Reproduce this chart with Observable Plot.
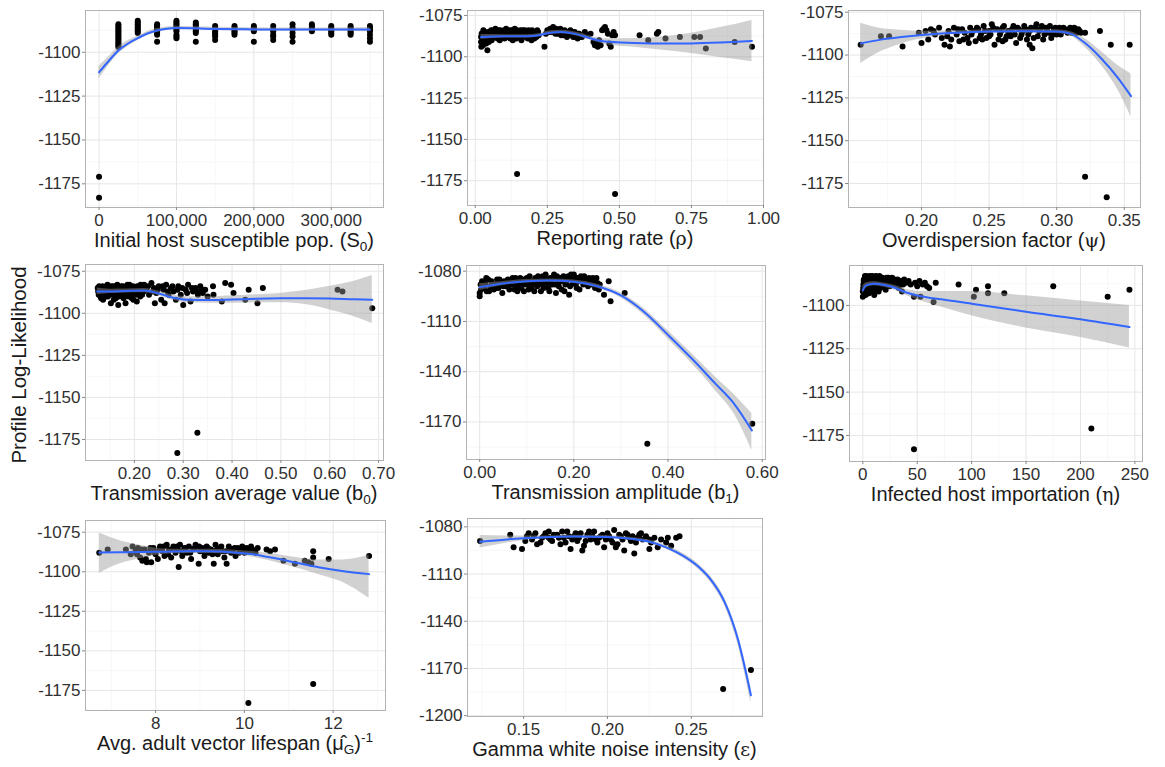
<!DOCTYPE html>
<html><head><meta charset="utf-8">
<script src="https://cdn.jsdelivr.net/npm/d3@7"></script>
<script src="https://cdn.jsdelivr.net/npm/@observablehq/plot@0.6"></script>
<style>
body{margin:0;background:#fff;font-family:"Liberation Sans",Arial,sans-serif;}
#chart{position:relative;width:1165px;height:767px;overflow:hidden;background:#fff;}
.xt{position:absolute;font-size:20px;color:#1a1a1a;text-align:center;white-space:nowrap;line-height:22px;transform:translateX(-50%);}
.xt sub{font-size:0.68em;vertical-align:-0.3em;line-height:0;}
.xt sup{font-size:0.68em;vertical-align:0.6em;line-height:0;}
.gk{font-family:"DejaVu Serif",serif;font-size:0.95em;}
.yl{position:absolute;font-size:20.5px;color:#1a1a1a;white-space:nowrap;transform:translate(-50%,-50%) rotate(-90deg);}
</style></head><body><div id="chart"></div><script>
// ---------- data ----------
const s0Pts = [[0,-1171],[0,-1183],
[25000,-1084],[25000,-1085],[25000,-1086],[25000,-1087],[25000,-1088],[25000,-1089],[25000,-1090],[25000,-1091],[25000,-1092],[25000,-1093],[25000,-1094],[25000,-1095],[25000,-1096],[25000,-1097],
[50000,-1082],[50000,-1083],[50000,-1084],[50000,-1085],[50000,-1086],[50000,-1087],[50000,-1088],[50000,-1089],
[75000,-1084],[75000,-1085],[75000,-1086],[75000,-1087],[75000,-1088],[75000,-1089],[75000,-1090],[75000,-1094],
[100000,-1082],[100000,-1083],[100000,-1084],[100000,-1085],[100000,-1086],[100000,-1087],[100000,-1088],[100000,-1090],[100000,-1091],[100000,-1092],
[125000,-1083],[125000,-1084],[125000,-1085],[125000,-1086],[125000,-1087],[125000,-1088],[125000,-1089],[125000,-1094],
[150000,-1085],[150000,-1086],[150000,-1088],[150000,-1089],[150000,-1090],[150000,-1091],[150000,-1093],
[175000,-1085],[175000,-1086],[175000,-1087],[175000,-1088],[175000,-1089],[175000,-1090],
[200000,-1085],[200000,-1086],[200000,-1087],[200000,-1088],[200000,-1094],
[225000,-1085],[225000,-1087],[225000,-1088],[225000,-1090],[225000,-1091],[225000,-1093],
[250000,-1084],[250000,-1086],[250000,-1087],[250000,-1089],[250000,-1091],[250000,-1094],
[275000,-1084],[275000,-1085],[275000,-1086],[275000,-1087],[275000,-1088],
[300000,-1085],[300000,-1086],[300000,-1087],[300000,-1088],[300000,-1089],[300000,-1090],
[325000,-1085],[325000,-1086],[325000,-1087],[325000,-1088],[325000,-1089],[325000,-1090],
[350000,-1085],[350000,-1086],[350000,-1087],[350000,-1088],[350000,-1090],[350000,-1092],[350000,-1094]];
const s0Fit = [[0,-1111.4,-1115,-1108],[12500,-1105,-1107.5,-1102.5],[25000,-1099,-1101,-1097],[37500,-1095,-1096.7,-1093.3],[50000,-1092,-1093.3,-1090.7],[62500,-1089.3,-1090.5,-1088.1],[75000,-1087.6,-1088.7,-1086.5],[87500,-1086.6,-1087.6,-1085.6],[100000,-1086.2,-1087.2,-1085.2],[150000,-1086.7,-1087.6,-1085.8],[200000,-1087,-1087.9,-1086.1],[250000,-1087.1,-1088,-1086.2],[300000,-1087.1,-1088,-1086.2],[350000,-1087.1,-1088.3,-1085.9]];

const rhoPts = [[0.02,-1088],[0.02,-1091],[0.021,-1094],[0.023,-1086],[0.025,-1089],[0.027,-1093],[0.03,-1087],[0.03,-1090],[0.032,-1085],[0.035,-1088],[0.038,-1092],[0.04,-1086],[0.042,-1096],[0.045,-1089],[0.048,-1085],[0.05,-1087],[0.055,-1084],[0.058,-1088],[0.06,-1086],[0.065,-1085],[0.07,-1083],[0.072,-1087],[0.075,-1085],[0.08,-1084],[0.083,-1086],[0.085,-1090],[0.09,-1085],[0.095,-1087],[0.1,-1084],[0.105,-1086],[0.11,-1085],[0.115,-1088],[0.12,-1084],[0.125,-1086],[0.13,-1090],[0.135,-1085],[0.14,-1087],[0.145,-1084],[0.15,-1086],[0.155,-1085],[0.16,-1090],[0.165,-1084],[0.17,-1086],[0.175,-1088],[0.18,-1085],[0.185,-1084],[0.19,-1087],[0.195,-1090],[0.2,-1085],[0.205,-1089],[0.21,-1086],[0.215,-1084],[0.22,-1087],
[0.022,-1086],[0.028,-1084],[0.033,-1091],[0.036,-1085],[0.043,-1087],[0.047,-1091],[0.052,-1085],[0.057,-1090],[0.062,-1084],[0.067,-1088],[0.071,-1085],[0.077,-1089],[0.081,-1086],[0.087,-1084],[0.092,-1088],[0.097,-1085],[0.102,-1089],[0.107,-1083],[0.112,-1087],[0.117,-1085],[0.122,-1089],[0.127,-1084],[0.132,-1087],[0.137,-1083],[0.142,-1089],[0.147,-1086],[0.152,-1088],[0.157,-1084],[0.162,-1087],[0.167,-1085],[0.172,-1084],[0.177,-1086],[0.182,-1089],[0.187,-1086],[0.192,-1085],[0.197,-1084],[0.202,-1087],[0.207,-1085],[0.212,-1088],[0.218,-1085],
[0.24,-1094],[0.245,-1086],[0.25,-1084],[0.26,-1083],[0.265,-1085],[0.27,-1082],[0.275,-1084],[0.28,-1083],[0.285,-1086],[0.29,-1084],[0.295,-1083],[0.3,-1085],[0.305,-1087],[0.31,-1084],[0.315,-1086],[0.32,-1085],[0.325,-1087],[0.33,-1084],[0.335,-1086],[0.34,-1088],[0.345,-1085],[0.35,-1087],[0.355,-1089],[0.36,-1086],[0.37,-1088],[0.38,-1085],[0.39,-1087],[0.4,-1086],
[0.255,-1085],[0.268,-1084],[0.278,-1086],[0.288,-1085],[0.298,-1087],[0.308,-1085],[0.318,-1088],[0.328,-1086],[0.338,-1085],[0.348,-1088],[0.358,-1086],[0.365,-1088],
[0.41,-1091],[0.415,-1093],[0.42,-1092],[0.425,-1094],[0.43,-1090],[0.435,-1093],[0.44,-1084],[0.445,-1083],[0.45,-1082],[0.455,-1084],[0.46,-1086],[0.465,-1092],[0.47,-1094],[0.475,-1087],[0.48,-1085],[0.485,-1087],
[0.57,-1087],[0.6,-1090],[0.63,-1086],[0.635,-1085],[0.66,-1089],[0.71,-1088],[0.76,-1088],[0.78,-1088],[0.8,-1095],[0.9,-1091],[0.96,-1094],
[0.145,-1171],[0.485,-1183]];
const rhoFit = [[0.02,-1088,-1089.5,-1086.5],[0.1,-1087.6,-1088.6,-1086.6],[0.18,-1087.6,-1088.6,-1086.6],[0.22,-1087,-1088,-1086],[0.26,-1085.4,-1086.5,-1084.3],[0.3,-1085,-1086.1,-1083.9],[0.35,-1086.3,-1087.5,-1085.1],[0.4,-1088.8,-1090.2,-1087.4],[0.45,-1090.8,-1092.5,-1089.1],[0.55,-1091.6,-1094.2,-1089],[0.65,-1092,-1096,-1088],[0.75,-1091.9,-1098,-1085.8],[0.85,-1091.4,-1100.5,-1082.3],[0.96,-1090.5,-1103,-1078]];

const psiPts = [[0.155,-1094],[0.17,-1089],[0.176,-1089],[0.186,-1095],[0.198,-1087],[0.2,-1093],[0.203,-1086],[0.205,-1091],[0.207,-1085],[0.21,-1088],[0.213,-1084],[0.215,-1090],[0.217,-1094],[0.22,-1086],[0.222,-1091],[0.224,-1084],[0.226,-1088],[0.228,-1092],[0.23,-1085],[0.232,-1087],[0.234,-1090],[0.236,-1084],[0.238,-1086],[0.24,-1092],[0.242,-1085],[0.244,-1088],[0.246,-1083],[0.248,-1090],[0.25,-1086],[0.252,-1082],[0.254,-1094],[0.256,-1085],[0.258,-1088],[0.26,-1084],[0.262,-1091],[0.264,-1086],[0.266,-1089],[0.268,-1083],[0.27,-1093],[0.272,-1085],[0.274,-1088],[0.276,-1083],[0.278,-1091],[0.28,-1086],[0.282,-1096],[0.284,-1084],[0.286,-1089],[0.288,-1085],[0.29,-1091],[0.292,-1084],[0.294,-1087],[0.296,-1090],[0.298,-1085],[0.3,-1088],[0.302,-1084],[0.304,-1086],[0.306,-1085],[0.308,-1087],[0.31,-1084],[0.312,-1086],[0.314,-1085],[0.28,-1094],[0.26,-1092],[0.245,-1091],[0.235,-1093],[0.25,-1089],[0.265,-1087],[0.285,-1082],[0.295,-1083],[0.221,-1095],
[0.209,-1086],[0.219,-1089],[0.227,-1085],[0.231,-1091],[0.237,-1088],[0.241,-1084],[0.243,-1090],[0.247,-1086],[0.251,-1088],[0.253,-1084],[0.257,-1091],[0.259,-1086],[0.261,-1083],[0.263,-1089],[0.267,-1085],[0.269,-1088],[0.271,-1084],[0.273,-1090],[0.275,-1086],[0.277,-1085],[0.279,-1088],[0.281,-1084],[0.283,-1090],[0.287,-1086],[0.289,-1083],[0.291,-1088],[0.293,-1086],[0.297,-1088],[0.299,-1084],[0.301,-1086],[0.303,-1088],[0.305,-1084],[0.307,-1086],[0.309,-1085],[0.311,-1087],[0.313,-1084],[0.315,-1087],[0.316,-1085],[0.317,-1086],[0.318,-1087],
[0.321,-1087],[0.332,-1086],[0.34,-1094],[0.354,-1094],
[0.321,-1171],[0.337,-1183]];
const psiFit = [[0.155,-1093.2,-1105,-1081.5],[0.17,-1091,-1098,-1084.5],[0.185,-1089.5,-1093.5,-1085.5],[0.2,-1088.3,-1090.5,-1086.1],[0.225,-1087,-1088.2,-1085.8],[0.25,-1086.3,-1087.3,-1085.3],[0.275,-1086.1,-1087.1,-1085.1],[0.3,-1086.3,-1087.4,-1085.2],[0.31,-1087.5,-1088.8,-1086.2],[0.321,-1093,-1095.5,-1090.5],[0.333,-1102,-1106,-1098],[0.345,-1113,-1120,-1106],[0.355,-1124,-1136,-1111]];

const b0Pts = [[0.125,-1085],[0.127,-1089],[0.13,-1087],[0.132,-1091],[0.135,-1084],[0.137,-1088],[0.14,-1086],[0.142,-1090],[0.145,-1083],[0.147,-1087],[0.15,-1085],[0.152,-1094],[0.155,-1089],[0.157,-1084],[0.16,-1086],[0.162,-1091],[0.165,-1083],[0.167,-1095],[0.17,-1088],[0.172,-1085],[0.175,-1090],[0.177,-1084],[0.18,-1087],[0.182,-1094],[0.185,-1085],[0.187,-1089],[0.19,-1083],[0.192,-1086],[0.195,-1091],[0.197,-1084],[0.2,-1088],[0.202,-1085],[0.205,-1093],[0.207,-1086],[0.21,-1084],[0.212,-1090],[0.215,-1087],[0.218,-1085],[0.22,-1083],
[0.126,-1087],[0.128,-1084],[0.131,-1090],[0.133,-1086],[0.136,-1092],[0.138,-1085],[0.141,-1088],[0.143,-1084],[0.146,-1090],[0.148,-1086],[0.151,-1088],[0.153,-1084],[0.156,-1087],[0.158,-1092],[0.161,-1085],[0.163,-1088],[0.166,-1085],[0.168,-1090],[0.171,-1086],[0.173,-1084],[0.176,-1088],[0.178,-1091],[0.181,-1085],[0.183,-1088],[0.186,-1083],[0.188,-1090],[0.191,-1087],[0.193,-1084],[0.196,-1088],[0.198,-1092],[0.201,-1086],[0.203,-1089],[0.206,-1084],[0.208,-1088],[0.211,-1086],[0.213,-1083],[0.216,-1089],[0.219,-1087],
[0.225,-1086],[0.23,-1089],[0.235,-1082],[0.24,-1085],[0.242,-1094],[0.245,-1088],[0.25,-1084],[0.255,-1092],[0.26,-1086],[0.262,-1094],[0.265,-1083],[0.27,-1089],[0.275,-1085],[0.28,-1087],[0.285,-1092],[0.29,-1084],[0.295,-1089],[0.3,-1095],[0.305,-1086],[0.31,-1083],[0.315,-1093],[0.32,-1087],[0.325,-1085],[0.33,-1089],[0.335,-1084],[0.34,-1088],[0.345,-1086],[0.35,-1090],
[0.228,-1084],[0.238,-1087],[0.248,-1086],[0.258,-1084],[0.268,-1087],[0.278,-1084],[0.288,-1086],[0.298,-1085],[0.308,-1088],[0.318,-1085],[0.328,-1087],[0.338,-1086],
[0.361,-1084],[0.362,-1089],[0.379,-1093],[0.386,-1082],[0.398,-1083],[0.403,-1088],[0.427,-1092],[0.434,-1086],[0.452,-1094],[0.463,-1085],[0.616,-1086],[0.626,-1087],[0.687,-1097],
[0.288,-1183],[0.329,-1171]];
const b0Fit = [[0.124,-1087,-1089,-1085],[0.15,-1087,-1088.3,-1085.7],[0.18,-1086.8,-1088,-1085.6],[0.22,-1086.5,-1087.8,-1085.2],[0.25,-1088.2,-1089.6,-1086.8],[0.28,-1090.8,-1092.4,-1089.2],[0.31,-1092,-1093.8,-1090.2],[0.35,-1092.1,-1094,-1090.2],[0.4,-1091.8,-1094,-1089.6],[0.45,-1091.4,-1093.8,-1089],[0.5,-1091.1,-1093.8,-1088.2],[0.55,-1091,-1094.8,-1086.5],[0.6,-1091.2,-1098,-1084],[0.65,-1091.7,-1102,-1081],[0.687,-1092,-1106,-1077.5]];

const b1Pts = [[0,-1095],[0,-1093],[0.002,-1088],[0.005,-1086],[0.008,-1090],[0.012,-1087],[0.015,-1092],[0.018,-1085],[0.022,-1089],[0.025,-1086],[0.03,-1091],[0.033,-1088],[0.037,-1085],[0.04,-1090],[0.044,-1087],[0.048,-1093],[0.052,-1086],[0.056,-1089],[0.06,-1085],[0.065,-1088],[0.07,-1084],[0.074,-1091],[0.078,-1086],[0.082,-1089],[0.086,-1084],[0.09,-1087],[0.094,-1092],[0.098,-1085],[0.102,-1088],[0.106,-1083],[0.11,-1090],[0.114,-1086],[0.118,-1084],[0.122,-1089],[0.126,-1085],[0.13,-1092],[0.134,-1083],[0.138,-1087],[0.142,-1085],[0.146,-1090],[0.15,-1084],[0.154,-1088],[0.158,-1082],[0.162,-1093],[0.166,-1086],[0.17,-1084],[0.174,-1091],[0.178,-1083],[0.182,-1088],[0.186,-1085],[0.19,-1094],[0.194,-1082],[0.198,-1087],[0.202,-1084],[0.206,-1090],[0.21,-1086],[0.215,-1083],[0.22,-1088],[0.225,-1085],[0.23,-1089],[0.235,-1086],[0.24,-1084],[0.245,-1090],[0.25,-1087],[0.255,-1088],
[0.003,-1091],[0.01,-1089],[0.014,-1084],[0.02,-1092],[0.027,-1088],[0.035,-1090],[0.042,-1085],[0.05,-1089],[0.058,-1087],[0.063,-1091],[0.068,-1086],[0.072,-1088],[0.076,-1084],[0.08,-1092],[0.084,-1087],[0.088,-1090],[0.092,-1085],[0.096,-1088],[0.1,-1084],[0.104,-1091],[0.108,-1086],[0.112,-1088],[0.116,-1092],[0.12,-1086],[0.124,-1083],[0.128,-1088],[0.132,-1085],[0.136,-1090],[0.14,-1082],[0.144,-1087],[0.148,-1092],[0.152,-1086],[0.156,-1084],[0.16,-1088],[0.164,-1083],[0.168,-1089],[0.172,-1086],[0.176,-1084],[0.18,-1092],[0.184,-1087],[0.188,-1083],[0.192,-1089],[0.196,-1085],[0.2,-1082],[0.204,-1088],[0.208,-1084],[0.212,-1091],[0.218,-1085],[0.222,-1083],[0.228,-1087],[0.232,-1084],[0.238,-1088],[0.243,-1086],[0.248,-1084],[0.253,-1091],
[0.264,-1094],[0.274,-1086],[0.278,-1098],[0.308,-1093],
[0.356,-1183],[0.579,-1171]];
const b1Fit = [[0,-1089.5,-1091.5,-1087.5],[0.05,-1087.3,-1088.5,-1086.1],[0.1,-1086,-1087,-1085],[0.15,-1085.6,-1086.6,-1084.6],[0.2,-1086.3,-1087.3,-1085.3],[0.25,-1089,-1090.2,-1087.8],[0.3,-1094.5,-1096,-1093],[0.35,-1104.5,-1106.5,-1102.5],[0.4,-1118,-1120.5,-1115.5],[0.45,-1132,-1135,-1129],[0.5,-1147,-1151,-1143],[0.54,-1159,-1165,-1153.5],[0.578,-1175,-1187,-1165]];

const etaPts = [[0,-1092],[0,-1095],[0.5,-1088],[1,-1085],[1.5,-1090],[2,-1083],[2.5,-1094],[3,-1087],[3.5,-1085],[4,-1091],[4.5,-1084],[5,-1088],[5.5,-1093],[6,-1086],[6.5,-1083],[7,-1089],[7.5,-1085],[8,-1092],[8.5,-1087],[9,-1084],[9.5,-1090],[10,-1086],[10.5,-1094],[11,-1085],[11.5,-1088],[12,-1083],[12.5,-1091],[13,-1086],[13.5,-1089],[14,-1084],[14.5,-1092],[15,-1087],[15.5,-1085],[16,-1090],[17,-1086],
[0.3,-1090],[0.8,-1086],[1.2,-1093],[1.8,-1087],[2.3,-1085],[2.8,-1091],[3.3,-1083],[3.8,-1088],[4.3,-1086],[4.8,-1093],[5.3,-1085],[5.8,-1090],[6.3,-1088],[6.8,-1084],[7.3,-1092],[7.8,-1086],[8.3,-1089],[8.8,-1083],[9.3,-1087],[9.8,-1085],[10.3,-1090],[10.8,-1087],[11.3,-1084],[11.8,-1092],[12.3,-1086],[12.8,-1088],[13.3,-1084],[13.8,-1091],[14.3,-1086],[14.8,-1089],[15.3,-1083],[16.5,-1088],[18.5,-1086],[20.5,-1090],[23.5,-1084],[26.5,-1087],[29.5,-1086],[31,-1088],[34,-1087],[37,-1088],
[18,-1084],[19,-1088],[20,-1085],[21,-1091],[22,-1084],[23,-1087],[24,-1085],[25,-1089],[26,-1086],[27,-1084],[28,-1088],[29,-1085],[30,-1087],[32,-1085],[33,-1090],[35,-1086],[36,-1092],[38,-1085],[40,-1087],[42,-1086],[44,-1088],[47,-1095],[48,-1087],[50,-1089],[52,-1086],[53,-1095],[55,-1088],[57,-1087],[59,-1089],[61,-1090],
[65,-1098],[67,-1087],[88,-1088],[102,-1095],[104,-1091],[115,-1089],[115,-1093],[130,-1093],[175,-1089],[225,-1095],[245,-1091],
[47,-1183],[210,-1171]];
const etaFit = [[0,-1091.3,-1093.5,-1089],[3,-1088.5,-1090,-1087],[10,-1087.5,-1088.7,-1086.3],[20,-1088.3,-1089.5,-1087.1],[30,-1090,-1091.4,-1088.6],[40,-1092.6,-1094.3,-1090.9],[50,-1094.3,-1096.8,-1091.8],[75,-1096.8,-1101.5,-1092],[100,-1099,-1106,-1092],[150,-1103.7,-1113,-1094.5],[200,-1108,-1118.5,-1097.5],[245,-1112.5,-1124.5,-1100]];

const lifePts = [[6.73,-1088],[6.92,-1086],[7.33,-1086],[7.44,-1089],[7.48,-1084],
[7.55,-1087],[7.6,-1085],[7.65,-1091],[7.7,-1093],[7.75,-1086],[7.8,-1094],[7.85,-1088],[7.9,-1094],[7.95,-1085],[8.0,-1089],[8.05,-1092],[8.1,-1084],[8.15,-1087],[8.2,-1090],[8.25,-1083],[8.3,-1086],[8.35,-1091],[8.4,-1084],[8.45,-1088],[8.5,-1086],[8.52,-1097],[8.55,-1083],[8.6,-1090],[8.65,-1085],[8.7,-1088],[8.75,-1084],[8.8,-1092],[8.85,-1086],[8.9,-1083],[8.97,-1095],[9.0,-1087],[9.05,-1085],[9.1,-1090],[9.15,-1084],[9.2,-1088],[9.25,-1086],[9.31,-1095],[9.35,-1083],[9.4,-1089],[9.45,-1085],[9.5,-1087],[9.55,-1091],[9.6,-1095],[9.65,-1084],[9.7,-1088],[9.75,-1086],[9.8,-1090],[9.85,-1085],[9.9,-1087],[9.95,-1084],[10.0,-1088],[10.05,-1085],[10.1,-1086],[10.15,-1084],[10.2,-1087],[10.3,-1085],
[7.58,-1089],[7.68,-1086],[7.78,-1092],[7.88,-1085],[7.98,-1088],[8.08,-1086],[8.18,-1084],[8.28,-1089],[8.38,-1086],[8.48,-1084],[8.58,-1087],[8.68,-1085],[8.78,-1088],[8.88,-1085],[8.98,-1084],[9.08,-1087],[9.18,-1085],[9.28,-1089],[9.38,-1086],[9.48,-1084],[9.58,-1087],[9.68,-1086],[9.78,-1085],[9.88,-1088],[9.98,-1086],[10.08,-1087],[10.18,-1086],[10.25,-1088],
[10.5,-1086],[10.58,-1087],[10.69,-1086],[10.88,-1093],[11.14,-1095],[11.36,-1093],[11.44,-1094],[11.51,-1095],[11.55,-1087],[11.55,-1091],[11.9,-1092],[12.81,-1090],
[10.09,-1183],[11.55,-1171]];
const lifeFit = [[6.73,-1087.8,-1101,-1075.5],[7.2,-1087.7,-1095,-1080.4],[7.7,-1087.5,-1091.5,-1083.5],[8.2,-1087.3,-1089,-1085.6],[8.7,-1087.1,-1088.4,-1085.8],[9.2,-1087.1,-1088.4,-1085.8],[9.7,-1087.6,-1089,-1086.2],[10.2,-1089,-1090.8,-1087.2],[10.7,-1091.5,-1094,-1089],[11.2,-1094.5,-1097.8,-1091.2],[11.7,-1097.3,-1102,-1092.6],[12.2,-1099.5,-1106.5,-1092.5],[12.81,-1101.5,-1116.8,-1089.5]];

const epsPts = [[0.124,-1089],[0.142,-1085],[0.144,-1093],[0.149,-1094],
[0.152,-1086],[0.155,-1088],[0.157,-1084],[0.16,-1090],[0.162,-1086],[0.165,-1083],[0.167,-1089],[0.17,-1085],[0.172,-1091],[0.174,-1087],[0.176,-1083],[0.178,-1094],[0.18,-1086],[0.182,-1089],[0.184,-1084],[0.186,-1092],[0.188,-1085],[0.19,-1088],[0.192,-1083],[0.194,-1090],[0.196,-1086],[0.198,-1093],[0.2,-1084],[0.202,-1088],[0.204,-1082],[0.206,-1091],[0.208,-1086],[0.21,-1095],[0.212,-1085],[0.214,-1089],[0.216,-1097],[0.218,-1087],[0.22,-1084],[0.185,-1095],[0.195,-1087],[0.175,-1090],[0.165,-1087],[0.205,-1093],
[0.151,-1089],[0.153,-1084],[0.156,-1086],[0.158,-1091],[0.161,-1087],[0.163,-1084],[0.166,-1088],[0.168,-1085],[0.171,-1087],[0.173,-1083],[0.177,-1086],[0.179,-1088],[0.181,-1084],[0.183,-1087],[0.187,-1089],[0.189,-1083],[0.191,-1086],[0.193,-1088],[0.197,-1085],[0.199,-1088],[0.201,-1086],[0.203,-1090],[0.207,-1085],[0.209,-1088],[0.211,-1084],[0.213,-1087],[0.215,-1086],[0.217,-1090],[0.219,-1085],[0.221,-1088],[0.223,-1086],[0.226,-1090],[0.23,-1093],[0.236,-1087],
[0.225,-1088],[0.225,-1094],[0.228,-1087],[0.232,-1088],[0.235,-1090],[0.238,-1092],[0.241,-1087],[0.243,-1086],
[0.269,-1183],[0.2856,-1171]];
const epsFit = [[0.124,-1089.5,-1093.5,-1085.5],[0.14,-1088,-1090.2,-1085.8],[0.16,-1086.8,-1087.8,-1085.8],[0.18,-1086.2,-1087.1,-1085.3],[0.2,-1086.5,-1087.4,-1085.6],[0.215,-1087.7,-1088.7,-1086.7],[0.225,-1089.5,-1090.6,-1088.4],[0.235,-1093,-1094.3,-1091.7],[0.245,-1098.3,-1099.8,-1096.8],[0.255,-1106,-1107.8,-1104.2],[0.262,-1114,-1116,-1112],[0.27,-1128,-1130.5,-1125.5],[0.278,-1152,-1155.5,-1148.5],[0.2856,-1187,-1192,-1182]];

// tick values
const s0XTicks = [0, 100000, 200000, 300000];
const rhoXTicks = [0, 0.25, 0.5, 0.75, 1.0];
const psiXTicks = [0.20, 0.25, 0.30, 0.35];
const b0XTicks = [0.2, 0.3, 0.4, 0.5, 0.6, 0.7];
const b1XTicks = [0, 0.2, 0.4, 0.6];
const etaXTicks = [0, 50, 100, 150, 200, 250];
const lifeXTicks = [8, 10, 12];
const epsXTicks = [0.15, 0.20, 0.25];
const yTicks25a = [-1100, -1125, -1150, -1175];
const yTicks25b = [-1075, -1100, -1125, -1150, -1175];
const yTicks30a = [-1080, -1110, -1140, -1170];
const yTicks30b = [-1080, -1110, -1140, -1170, -1200];

// titles
const titles = [
  'Initial host susceptible pop. (S<sub>0</sub>)',
  'Reporting rate (<span class="gk">ρ</span>)',
  'Overdispersion factor (<span class="gk">ψ</span>)',
  'Transmission average value (b<sub>0</sub>)',
  'Transmission amplitude (b<sub>1</sub>)',
  'Infected host importation (<span class="gk">η</span>)',
  'Avg. adult vector lifespan (μ̂<sub>G</sub>)<sup>-1</sup>',
  'Gamma white noise intensity (<span class="gk">ε</span>)'
];
const yTitle = "Profile Log-Likelihood";

// ---------- layout ----------
const f2 = d3.format(".2f");
const panels = [
  {pts:s0Pts, fit:s0Fit, xd:[-17500,367500], yd:[-1188.5,-1076.2], xt:s0XTicks, yt:yTicks25a, xf:d3.format(","), fr:[85,383,10,207]},
  {pts:rhoPts, fit:rhoFit, xd:[-0.027,1.0], yd:[-1190,-1072], xt:rhoXTicks, yt:yTicks25b, xf:f2, fr:[467,763,10,205]},
  {pts:psiPts, fit:psiFit, xd:[0.146,0.362], yd:[-1189,-1074], xt:psiXTicks, yt:yTicks25b, xf:f2, fr:[848,1140,10,207]},
  {pts:b0Pts, fit:b0Fit, xd:[0.100,0.710], yd:[-1187.5,-1071], xt:b0XTicks, yt:yTicks25b, xf:f2, fr:[85,383,264,460]},
  {pts:b1Pts, fit:b1Fit, xd:[-0.028,0.607], yd:[-1192.4,-1076.6], xt:b1XTicks, yt:yTicks30a, xf:f2, fr:[466,765,265,459]},
  {pts:etaPts, fit:etaFit, xd:[-12.25,257], yd:[-1190,-1077], xt:etaXTicks, yt:yTicks25a, xf:d3.format("d"), fr:[849,1142,265,461]},
  {pts:lifePts, fit:lifeFit, xd:[6.42,13.18], yd:[-1187.7,-1067.6], xt:lifeXTicks, yt:yTicks25b, xf:d3.format("d"), fr:[85,385,520,710]},
  {pts:epsPts, fit:epsFit, xd:[0.1165,0.2925], yd:[-1200.5,-1074.7], xt:epsXTicks, yt:yTicks30b, xf:f2, fr:[467,762,518,716]}
];

function minors(ticks, dom) {
  const lo = Math.min(...dom), hi = Math.max(...dom);
  const s = [...ticks].sort((a,b)=>a-b);
  const step = s[1]-s[0];
  const out = [s[0]-step/2];
  for (let i=0;i<s.length-1;i++) out.push((s[i]+s[i+1])/2);
  out.push(s[s.length-1]+step/2);
  return out.filter(v => v>lo && v<hi);
}

const chart = document.getElementById("chart");
const ML = 64, MR = 24, MT = 12, MB = 30;
panels.forEach((p, i) => {
  const [L, R, T, B] = p.fr;
  const svg = Plot.plot({
    width: ML + (R-L) + MR, height: MT + (B-T) + MB,
    marginLeft: ML, marginRight: MR, marginTop: MT, marginBottom: MB,
    style: {fontFamily: "Liberation Sans, Arial, sans-serif", fontSize: "17px", color: "#303030", background: "transparent"},
    x: {domain: p.xd}, y: {domain: p.yd},
    marks: [
      Plot.gridX(minors(p.xt, p.xd), {stroke: "#f3f3f3", strokeOpacity: 1, strokeWidth: 0.7}),
      Plot.gridY(minors(p.yt, p.yd), {stroke: "#f3f3f3", strokeOpacity: 1, strokeWidth: 0.7}),
      Plot.gridX(p.xt, {stroke: "#e6e6e6", strokeOpacity: 1, strokeWidth: 1}),
      Plot.gridY(p.yt, {stroke: "#e6e6e6", strokeOpacity: 1, strokeWidth: 1}),
      Plot.dot(p.pts, {x: d => d[0], y: d => d[1], r: 3, fill: "black", stroke: "none"}),
      Plot.areaY(p.fit, {x: d => d[0], y1: d => d[2], y2: d => d[3], fill: "#999999", fillOpacity: 0.45, curve: "monotone-x"}),
      Plot.line(p.fit, {x: d => d[0], y: d => d[1], stroke: "#3366FF", strokeWidth: 2, curve: "monotone-x"}),
      Plot.frame({stroke: "#b3b3b3"}),
      Plot.axisX(p.xt, {tickFormat: p.xf, tickSize: 3, tickPadding: 3, label: null, stroke: "#888", fill: "#303030", fontSize: 17}),
      Plot.axisY(p.yt, {tickFormat: d => String(d), tickSize: 3, tickPadding: 2, label: null, stroke: "#888", fill: "#303030", fontSize: 17})
    ]
  });
  svg.style.position = "absolute";
  svg.style.left = (L - ML) + "px";
  svg.style.top = (T - MT) + "px";
  svg.style.overflow = "visible";
  chart.appendChild(svg);
  const t = document.createElement("div");
  t.className = "xt";
  t.innerHTML = titles[i];
  t.style.left = ((L + R) / 2) + "px";
  t.style.top = (B + 22) + "px";
  chart.appendChild(t);
});
const yl = document.createElement("div");
yl.className = "yl";
yl.textContent = yTitle;
yl.style.left = "19px";
yl.style.top = "365px";
chart.appendChild(yl);
</script></body></html>
